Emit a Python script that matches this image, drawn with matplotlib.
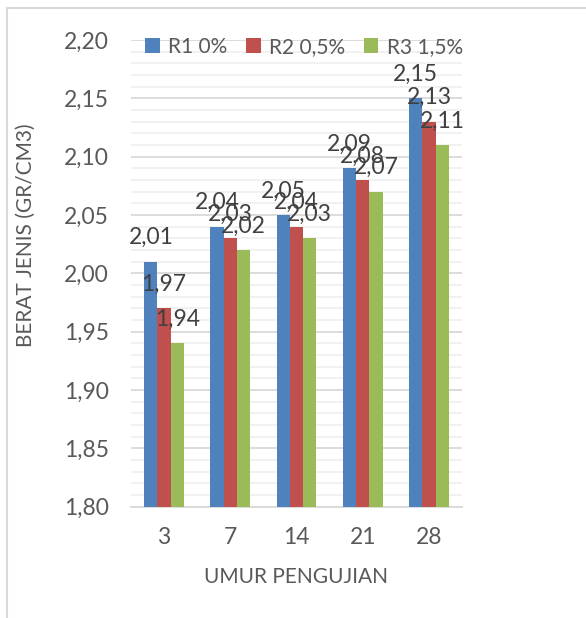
import matplotlib.pyplot as plt
import numpy as np
from matplotlib.patches import Rectangle
from matplotlib.ticker import MultipleLocator, FuncFormatter

# data
umur = ['3', '7', '14', '21', '28']
series_names = ['R1 0%', 'R2 0,5%', 'R3 1,5%']
r1 = [2.01, 2.04, 2.05, 2.09, 2.15]
r2 = [1.97, 2.03, 2.04, 2.08, 2.13]
r3 = [1.94, 2.02, 2.03, 2.07, 2.11]
colors = ['#4f81bd', '#c0504d', '#9bbb59']

plt.rcParams['font.family'] = ['Lato', 'DejaVu Sans']

fig = plt.figure(figsize=(5.86, 6.18), dpi=100)
ax = fig.add_axes([131 / 586, 1 - 506.5 / 618, 331 / 586, 466.5 / 618])

# light frame of the chart area (only top & left visible in the crop)
fig.patches.append(Rectangle((7 / 586, -0.1), 1.2, 1 - 8 / 618 + 0.1,
                             transform=fig.transFigure, fill=False,
                             edgecolor='#d9d9d9', linewidth=1.5))

x = np.arange(len(umur))
w = 0.2
for i, (vals, name) in enumerate(zip([r1, r2, r3], series_names)):
    pos = x + (i - 1) * w
    ax.bar(pos, [v - 1.8 for v in vals], w, bottom=1.8,
           color=colors[i], label=name, zorder=3)
    for p, v in zip(pos, vals):
        ax.annotate(('%.2f' % v).replace('.', ','), (p, v),
                    xytext=(0, 24), textcoords='offset pixels',
                    ha='center', va='center', fontsize=16.5,
                    color='#404040', zorder=5)

ax.set_xlim(-0.5, len(umur) - 0.5)
ax.set_ylim(1.80, 2.20)
ax.set_xticks(x)
ax.set_xticklabels(umur)
ax.yaxis.set_major_locator(MultipleLocator(0.05))
ax.yaxis.set_minor_locator(MultipleLocator(0.01))
ax.yaxis.set_major_formatter(FuncFormatter(lambda v, p: ('%.2f' % v).replace('.', ',')))
ax.grid(axis='y', which='major', color='#d9d9d9', linewidth=1.3, zorder=1)
ax.grid(axis='y', which='minor', color='#f0f0f0', linewidth=1.3, zorder=0)
for s in ['top', 'right', 'left']:
    ax.spines[s].set_visible(False)
ax.spines['bottom'].set_color('#d9d9d9')
ax.spines['bottom'].set_linewidth(1.3)
ax.tick_params(axis='both', which='both', length=0, labelsize=16.5,
               labelcolor='#595959')
ax.tick_params(axis='y', pad=16)
ax.tick_params(axis='x', pad=15)

fig.text(296 / 586, 1 - 577 / 618, 'UMUR PENGUJIAN', ha='center', va='center',
         fontsize=15, color='#595959')
fig.text(26 / 586, 1 - 235 / 618, 'BERAT JENIS (GR/CM3)', ha='center',
         va='center', rotation=90, fontsize=15, color='#595959')

leg = ax.legend(loc='center', bbox_to_anchor=(304 / 586, 1 - 47 / 618),
                bbox_transform=fig.transFigure, ncol=3, frameon=False,
                fontsize=15, handlelength=0.7, handleheight=0.7,
                handletextpad=0.4, columnspacing=0.9, labelcolor='#595959')

fig.savefig('out.png', dpi=100)
